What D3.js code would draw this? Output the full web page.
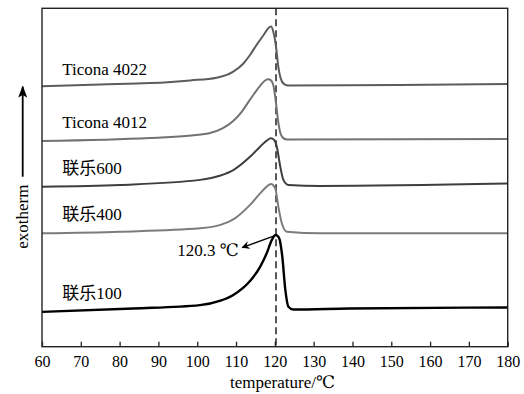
<!DOCTYPE html>
<html>
<head>
<meta charset="utf-8">
<script src="https://cdn.jsdelivr.net/npm/d3@7"></script>
<style>
  body { margin: 0; background: #fff; }
  svg { display: block; }
  text { fill: #000; }
</style>
</head>
<body>
<svg id="chart" width="524" height="394"></svg>
<script>
// temperature (°C) / heat flow (a.u., stacked)
const ticona4022 = [
  [60, 7.70], [75, 7.75], [87.8, 7.79], [98.2, 7.87], [105, 7.95], [109.3, 8.13],
  [111.9, 8.37], [113.6, 8.62], [115.3, 8.92], [117.1, 9.21], [118.3, 9.41], [119, 9.46],
  [119.6, 9.31], [120.3, 8.87], [120.9, 8.27], [121.5, 7.93], [122.4, 7.76], [123.5, 7.72],
  [152.3, 7.73], [180, 7.76]
];
const ticona4012 = [
  [60, 6.08], [87.8, 6.17], [98.5, 6.24], [103.5, 6.32], [106.5, 6.45], [109.2, 6.66],
  [111.5, 6.95], [113.6, 7.30], [116.2, 7.71], [117.4, 7.86], [118.3, 7.90], [119, 7.87],
  [119.6, 7.73], [120.3, 7.20], [120.8, 6.70], [121.4, 6.32], [122.1, 6.17], [123.2, 6.12],
  [180, 6.14]
];
const lianle600 = [
  [60, 4.73], [80.1, 4.78], [100.7, 4.93], [106, 5.06], [109.3, 5.22], [113.6, 5.61],
  [116.2, 5.91], [117.9, 6.09], [119, 6.16], [119.8, 6.11], [120.5, 5.91], [121.4, 5.32],
  [122.2, 4.93], [123.5, 4.78], [131.7, 4.75], [180, 4.82]
];
const lianle400 = [
  [60, 3.35], [80.1, 3.40], [100.7, 3.50], [106, 3.60], [109.3, 3.76], [113.6, 4.19],
  [116.2, 4.53], [117.9, 4.73], [119, 4.81], [120.1, 4.68], [120.9, 4.14], [121.8, 3.65],
  [123.1, 3.40], [131.7, 3.35], [180, 3.35]
];
const lianle100 = [
  [60, 1.03], [83.5, 1.13], [100.7, 1.23], [106, 1.36], [109.3, 1.53], [113.6, 1.94],
  [116.2, 2.36], [117.9, 2.76], [119.2, 3.15], [120.2, 3.30], [121.1, 3.21], [121.9, 2.68],
  [122.7, 1.68], [123.5, 1.18], [124.7, 1.10], [139.1, 1.13], [180, 1.16]
];

const seriesNames = ["Ticona 4022", "Ticona 4012", "联乐600", "联乐400", "联乐100"];
const seriesData = [ticona4022, ticona4012, lianle600, lianle400, lianle100];
const seriesColors = ["#5c5c5c", "#727272", "#3e3e3e", "#7c7c7c", "#000"];
const labelValues = [8.03, 6.45, 5.10, 3.74, 1.40];   // label baseline, same units
const labelTemp = 65.2;

const xTicks = d3.range(60, 181, 10);
const peakTemp = 120.3;
const peakValue = 3.30;
const annotText = "120.3 ℃";
const annotAt = [111.6, 2.93];

const serif = "'Liberation Serif', 'Times New Roman', 'DejaVu Serif', 'Noto Sans CJK SC', serif";

const width = 524, height = 394;
const margin = { top: 8.3, right: 16.3, bottom: 47.3, left: 42 };
const innerW = width - margin.left - margin.right;
const innerH = height - margin.top - margin.bottom;

const svg = d3.select("#chart").attr("font-family", serif);
const g = svg.append("g").attr("transform", `translate(${margin.left},${margin.top})`);

const x = d3.scaleLinear().domain([60, 180]).range([0, innerW]);
const y = d3.scaleLinear().domain([0, 10]).range([innerH, 0]);

// dashed marker at the peak temperature
g.append("line")
  .attr("x1", x(peakTemp)).attr("x2", x(peakTemp))
  .attr("y1", 0).attr("y2", innerH)
  .attr("stroke", "#111")
  .attr("stroke-width", 1.4)
  .attr("stroke-dasharray", "7,4");

const line = d3.line()
  .x(d => x(d[0]))
  .y(d => y(d[1]))
  .curve(d3.curveMonotoneX);

g.append("g")
  .selectAll("path")
  .data(seriesData)
  .join("path")
  .attr("d", line)
  .attr("fill", "none")
  .attr("stroke", (d, i) => seriesColors[i])
  .attr("stroke-width", (d, i) => i === 4 ? 2.4 : 2)
  .attr("stroke-linejoin", "round");

g.append("g")
  .selectAll("text")
  .data(seriesNames)
  .join("text")
  .attr("x", x(labelTemp))
  .attr("y", (d, i) => y(labelValues[i]))
  .attr("font-size", 17)
  .text(d => d);

// x axis, ticks pointing inward
const xAxis = g.append("g")
  .attr("transform", `translate(0,${innerH})`)
  .call(d3.axisBottom(x).tickValues(xTicks).tickSizeInner(-5).tickSizeOuter(0).tickPadding(9));
xAxis.attr("font-family", serif);
xAxis.select(".domain").remove();
xAxis.selectAll(".tick line").attr("stroke", "#222").attr("stroke-width", 1.3);
xAxis.selectAll(".tick text")
  .attr("font-size", 16)
  .attr("fill", "#000");

// frame
g.append("rect")
  .attr("width", innerW)
  .attr("height", innerH)
  .attr("fill", "none")
  .attr("stroke", "#222")
  .attr("stroke-width", 1.4);

svg.append("text")
  .attr("x", 230)
  .attr("y", 387.5)
  .attr("font-size", 17)
  .text("temperature/℃");

const defs = svg.append("defs");
defs.append("marker")
  .attr("id", "head")
  .attr("viewBox", "0 0 10 10")
  .attr("refX", 9).attr("refY", 5)
  .attr("markerWidth", 8).attr("markerHeight", 8)
  .attr("markerUnits", "userSpaceOnUse")
  .attr("orient", "auto")
  .append("path")
  .attr("d", "M0,0 L10,5 L0,10 L3,5 Z")
  .attr("fill", "#000");

defs.append("marker")
  .attr("id", "bighead")
  .attr("viewBox", "0 0 10 10")
  .attr("refX", 9).attr("refY", 5)
  .attr("markerWidth", 12).attr("markerHeight", 9)
  .attr("markerUnits", "userSpaceOnUse")
  .attr("orient", "auto")
  .attr("preserveAspectRatio", "none")
  .append("path")
  .attr("d", "M0,0 L10,5 L0,10 L2,5 Z")
  .attr("fill", "#000");

// y label with arrow
svg.append("line")
  .attr("x1", 22.7).attr("x2", 22.7)
  .attr("y1", 176.7).attr("y2", 86.7)
  .attr("stroke", "#000")
  .attr("stroke-width", 1.8)
  .attr("marker-end", "url(#bighead)");

svg.append("text")
  .attr("transform", "translate(28,216.7) rotate(-90)")
  .attr("text-anchor", "middle")
  .attr("font-size", 17)
  .text("exotherm");

// peak annotation
g.append("line")
  .attr("x1", x(peakTemp) - 1).attr("y1", y(peakValue) + 0.5)
  .attr("x2", x(annotAt[0])).attr("y2", y(annotAt[1]))
  .attr("stroke", "#000")
  .attr("stroke-width", 1.3)
  .attr("marker-end", "url(#head)");

g.append("text")
  .attr("x", x(annotAt[0]) - 3.5)
  .attr("y", y(annotAt[1]) + 8.5)
  .attr("text-anchor", "end")
  .attr("font-size", 17)
  .text(annotText);
</script>
</body>
</html>
